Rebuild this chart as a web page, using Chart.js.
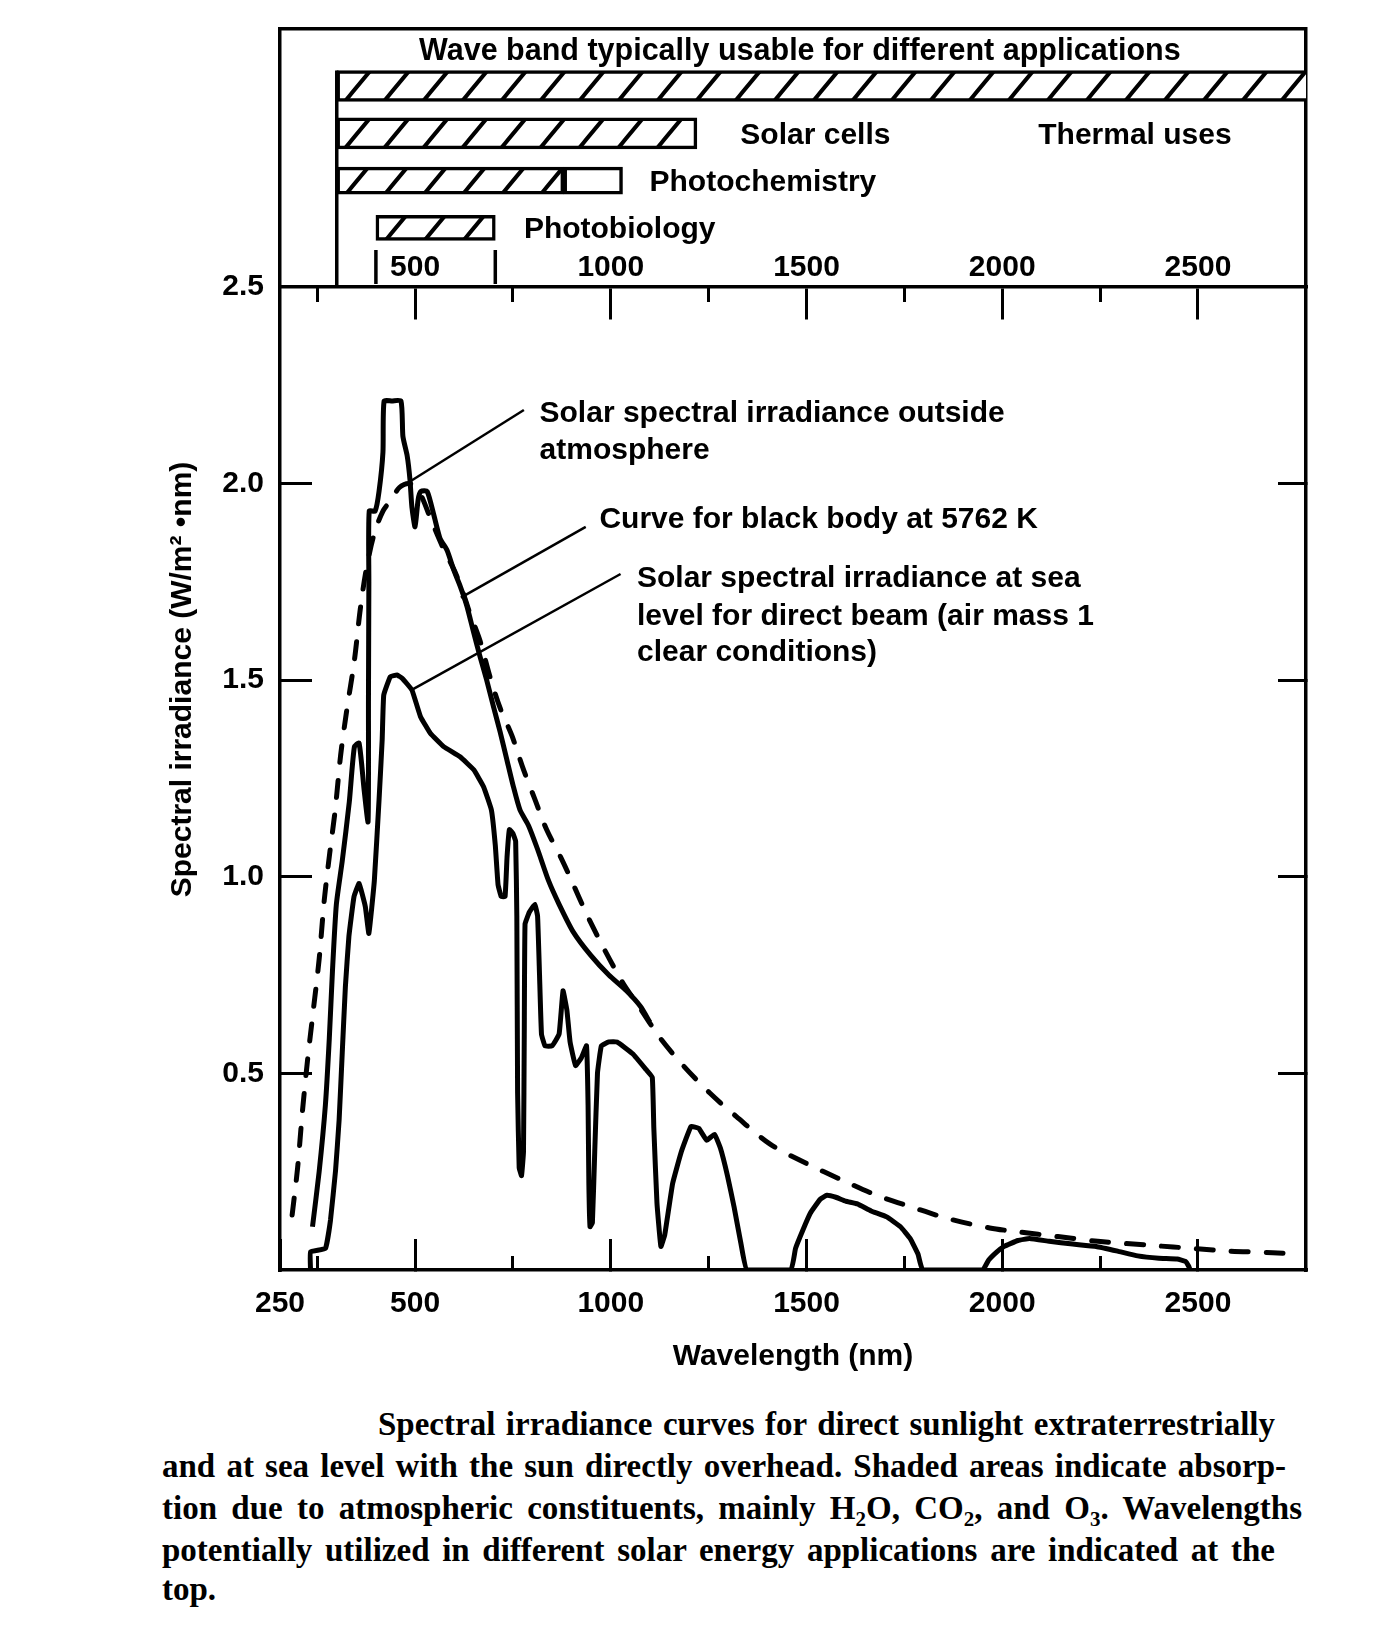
<!DOCTYPE html>
<html>
<head>
<meta charset="utf-8">
<script src="https://cdn.jsdelivr.net/npm/chart.js@4.4.1/dist/chart.umd.min.js"></script>
<style>
  body { margin: 0; background: #fff; }
  #wrap { position: relative; width: 1392px; height: 1636px; }
  #myChart { position: absolute; left: 0; top: 0; }
  .cap { position: absolute; font-family: "Liberation Serif", serif; font-weight: bold; font-size: 33px;
         line-height: 42px; color: #000; text-align: justify; text-align-last: justify; }
  .cap sub { font-size: 21px; line-height: 0; vertical-align: -7px; }
</style>
</head>
<body>
<div id="wrap">
  <canvas id="myChart" width="1392" height="1400"></canvas>
  <div class="cap" style="left:378px;top:1403px;width:897px">Spectral irradiance curves for direct sunlight extraterrestrially</div>
  <div class="cap" style="left:162px;top:1445px;width:1124px">and at sea level with the sun directly overhead. Shaded areas indicate absorp-</div>
  <div class="cap" style="left:162px;top:1487px;width:1140px">tion due to atmospheric constituents, mainly H<sub>2</sub>O, CO<sub>2</sub>, and O<sub>3</sub>. Wavelengths</div>
  <div class="cap" style="left:162px;top:1529px;width:1113px">potentially utilized in different solar energy applications are indicated at the</div>
  <div class="cap" style="left:162px;top:1568px;text-align:left;text-align-last:left">top.</div>
</div>
<script>
const ctx = document.querySelector("#myChart");

// curves: wavelength (nm) and irradiance (W/m2.nm)
const blackBodyNm = [186, 200, 212, 225, 240, 255, 268, 282, 296, 310, 325, 345, 360, 375, 395, 418, 440, 460, 485, 510,
  540, 570, 600, 620, 640, 666, 691, 717, 747, 778, 805, 836, 872, 900, 936, 981, 1031, 1072, 1126, 1185,
  1253, 1321, 1407, 1502, 1588, 1679, 1769, 1864, 1968, 2041, 2142, 2244, 2376, 2498, 2579, 2691, 2760];
const blackBodyVal = [0.14, 0.26, 0.40, 0.53, 0.66, 0.79, 0.94, 1.06, 1.17, 1.31, 1.42, 1.55, 1.68, 1.78, 1.87, 1.93, 1.96, 1.99, 2.00, 1.98,
  1.91, 1.84, 1.78, 1.73, 1.67, 1.60, 1.51, 1.43, 1.36, 1.27, 1.20, 1.12, 1.05, 0.99, 0.91, 0.82, 0.73, 0.67, 0.59, 0.52,
  0.45, 0.39, 0.32, 0.27, 0.23, 0.19, 0.16, 0.13, 0.107, 0.097, 0.085, 0.073, 0.063, 0.054, 0.048, 0.044, 0.04];

const outsideNm = [238, 255, 271, 281, 289, 299, 314, 332, 345, 357, 370, 380, 381, 382, 383, 398, 408, 418, 421, 441,
  464, 469, 480, 487, 492, 500, 508, 515, 531, 548, 564, 582, 599, 615, 632, 650, 666, 683, 701, 717,
  734, 751, 768, 790, 813, 841, 868, 904, 949, 995, 1040, 1076, 1100];
const outsideVal = [0.11, 0.25, 0.42, 0.59, 0.76, 0.93, 1.04, 1.19, 1.33, 1.34, 1.22, 1.14, 1.45, 1.75, 1.93, 1.93, 1.98, 2.08, 2.21, 2.21,
  2.21, 2.12, 2.07, 2.01, 1.94, 1.89, 1.96, 1.98, 1.98, 1.92, 1.86, 1.83, 1.78, 1.74, 1.69, 1.62, 1.56, 1.50, 1.43, 1.37,
  1.30, 1.23, 1.17, 1.13, 1.07, 0.99, 0.93, 0.86, 0.80, 0.75, 0.71, 0.67, 0.63];

const seaLevelNm = [233, 233, 271, 284, 297, 306, 314, 322, 331, 344, 357, 373, 382, 396, 408, 416, 420, 437, 454, 467,
  492, 514, 539, 573, 615, 650, 675, 695, 705, 712, 720, 730, 735, 741, 750, 757, 760, 762, 766, 772,
  777, 779, 781, 792, 806, 813, 818, 823, 832, 850, 868, 878, 888, 896, 910, 925, 938, 942, 944, 947,
  953, 959, 966, 976, 995, 1016, 1056, 1090, 1106, 1110, 1118, 1128, 1138, 1158, 1180, 1205, 1225, 1245, 1265, 1280,
  1298, 1315, 1332, 1348, 1460, 1472, 1490, 1510, 1535, 1552, 1575, 1600, 1630, 1665, 1705, 1740, 1765, 1785, 1797, 1950,
  1965, 1985, 2005, 2040, 2070, 2120, 2180, 2240, 2295, 2346, 2400, 2447, 2468, 2476, 2480];
const seaLevelVal = [0, 0.046, 0.055, 0.127, 0.254, 0.381, 0.552, 0.72, 0.848, 0.949, 0.983, 0.924, 0.856, 0.99, 1.195, 1.348, 1.462, 1.509, 1.513, 1.505,
  1.475, 1.407, 1.365, 1.331, 1.305, 1.272, 1.229, 1.17, 1.08, 0.98, 0.95, 0.95, 1.05, 1.12, 1.11, 1.09, 0.9, 0.45, 0.26, 0.24,
  0.3, 0.6, 0.88, 0.91, 0.93, 0.9, 0.75, 0.6, 0.57, 0.57, 0.6, 0.71, 0.66, 0.58, 0.52, 0.54, 0.57, 0.42, 0.22, 0.11,
  0.12, 0.3, 0.5, 0.57, 0.58, 0.58, 0.55, 0.51, 0.49, 0.36, 0.17, 0.06, 0.09, 0.22, 0.3, 0.365, 0.36, 0.33, 0.345, 0.31,
  0.24, 0.16, 0.07, 0, 0, 0.055, 0.1, 0.145, 0.18, 0.19, 0.185, 0.175, 0.168, 0.15, 0.135, 0.11, 0.08, 0.04, 0, 0,
  0.025, 0.045, 0.06, 0.075, 0.08, 0.073, 0.066, 0.06, 0.048, 0.036, 0.03, 0.028, 0.022, 0.01, 0];

// wave bands at the top (nm); hatched part ends at bandHatchEnd
const bandNames = ["Thermal uses", "Solar cells", "Photochemistry", "Photobiology"];
const bandStart = [300, 300, 300, 400];
const bandEnd = [3000, 1220, 1030, 705];
const bandHatchEnd = [3000, 1220, 880, 705];

// ticks
const yTicks = [0.5, 1.0, 1.5, 2.0, 2.5];
const xMajorTicks = [500, 1000, 1500, 2000, 2500];
const xMinorTicks = [250, 750, 1250, 1750, 2250];
const xBottomLabels = ["250", "500", "1000", "1500", "2000", "2500"]; // "250" is printed at the left corner

// layout
const X_MIN = 155, X_MAX = 2776, Y_TOP = 3.156;
const TOP = 29, BOTTOM = 1270;
const ROW = 47.3, ROW_MIN = -1.205;
const BAND_THICK = [31, 31, 27, 25];
const FONT = { family: "Liberation Sans", size: 30, weight: "bold" };
const AXIS_W = 3.5;

const notes = [
  ["Solar spectral irradiance outside", 818, 2.177],
  ["atmosphere", 818, 2.083],
  ["Curve for black body at 5762 K", 971, 1.907],
  ["Solar spectral irradiance at sea", 1067, 1.757],
  ["level for direct beam (air mass 1", 1067, 1.661],
  ["clear conditions)", 1067, 1.569]
];
const leaders = [[778, 2.187, 485, 2.004], [936, 1.89, 617, 1.71], [1025, 1.77, 495, 1.477]];
const bandLabels = [["Solar cells", 1331, 1], ["Thermal uses", 2092, 1], ["Photochemistry", 1099, 2], ["Photobiology", 778, 3]];

const pts = (xs, ys) => xs.map((v, i) => ({ x: v, y: ys[i] }));
const setTicks = (vals) => (s) => { s.ticks = vals.map(v => ({ value: v })); };
const noPad = (s) => { s.paddingTop = s.paddingBottom = s.paddingLeft = s.paddingRight = 0; };

// hatch for the band bars
function hatch() {
  const w = 39, h = 47;
  const c = document.createElement("canvas");
  c.width = w; c.height = h;
  const g = c.getContext("2d");
  g.fillStyle = "#fff"; g.fillRect(0, 0, w, h);
  g.strokeStyle = "#000"; g.lineWidth = 4;
  g.beginPath();
  g.moveTo(-w / 2, h / 2); g.lineTo(w / 2, -h / 2);
  g.moveTo(-w / 2, h * 1.5); g.lineTo(w * 1.5, -h / 2);
  g.moveTo(w / 2, h * 1.5); g.lineTo(w * 1.5, h / 2);
  g.stroke();
  return ctx.getContext("2d").createPattern(c, "repeat");
}
const pattern = hatch();

const curveStyle = { type: "line", xAxisID: "x", yAxisID: "y", borderColor: "#000", borderWidth: 5,
  pointRadius: 0, fill: false, borderJoinStyle: "round" };

const datasets = [
  Object.assign({}, curveStyle, { label: "Black body 5762 K", data: pts(blackBodyNm, blackBodyVal),
    borderDash: [17, 18], borderCapStyle: "round", tension: 0.3 }),
  Object.assign({}, curveStyle, { label: "Outside atmosphere", data: pts(outsideNm, outsideVal), tension: 0.2 }),
  Object.assign({}, curveStyle, { label: "Sea level, air mass 1", data: pts(seaLevelNm, seaLevelVal), tension: 0.1 })
];

bandNames.forEach((name, i) => {
  const bar = { type: "bar", indexAxis: "y", xAxisID: "x", yAxisID: "yBand", grouped: false,
    borderColor: "#000", borderWidth: 3.5, borderSkipped: false, barThickness: BAND_THICK[i] };
  datasets.push(Object.assign({}, bar, { label: name, data: [{ x: [bandStart[i], bandHatchEnd[i]], y: i }], backgroundColor: pattern }));
  if (bandEnd[i] > bandHatchEnd[i]) {
    datasets.push(Object.assign({}, bar, { label: name + " (plain)", data: [{ x: [bandHatchEnd[i], bandEnd[i]], y: i }], backgroundColor: "#fff" }));
  }
});

const notePlugin = {
  id: "notes",
  afterDatasetsDraw(chart) {
    const { x, y, yBand } = chart.scales;
    const g = chart.ctx;
    g.save();
    g.strokeStyle = "#000"; g.fillStyle = "#000";
    g.font = "bold 30px 'Liberation Sans'";
    g.textBaseline = "middle";

    g.lineWidth = 2.5;
    leaders.forEach(l => {
      g.beginPath();
      g.moveTo(x.getPixelForValue(l[0]), y.getPixelForValue(l[1]));
      g.lineTo(x.getPixelForValue(l[2]), y.getPixelForValue(l[3]));
      g.stroke();
    });
    notes.forEach(n => g.fillText(n[0], x.getPixelForValue(n[1]), y.getPixelForValue(n[2])));

    // band panel
    g.lineWidth = 3.5;
    const base = y.getPixelForValue(2.5);
    const x0 = x.getPixelForValue(bandStart[0]);
    g.beginPath();
    g.moveTo(x0, yBand.getPixelForValue(0) - BAND_THICK[0] / 2);
    g.lineTo(x0, base);
    [bandStart[3], bandEnd[3]].forEach(v => {
      const px = x.getPixelForValue(v);
      g.moveTo(px, base - 37); g.lineTo(px, base - 3);
    });
    g.stroke();
    bandLabels.forEach(b => g.fillText(b[0], x.getPixelForValue(b[1]), yBand.getPixelForValue(b[2]) + 2));
    g.textAlign = "center";
    g.font = "bold 30.5px 'Liberation Sans'";
    g.fillText("Wave band typically usable for different applications", x.getPixelForValue(1483), yBand.getPixelForValue(-0.72));
    g.restore();
  }
};

const xBase = { type: "linear", axis: "x", min: X_MIN, max: X_MAX };

new Chart(ctx, {
  type: "line",
  data: { datasets: datasets },
  plugins: [notePlugin],
  options: {
    responsive: false,
    animation: false,
    devicePixelRatio: 1,
    events: [],
    layout: { padding: { top: TOP, left: 0, right: 0, bottom: 0 } },
    plugins: { legend: { display: false }, tooltip: { enabled: false } },
    scales: {
      x: Object.assign({}, xBase, {
        position: "bottom",
        afterBuildTicks: setTicks([X_MIN].concat(xMajorTicks)),
        afterFit: s => { s.height = 1400 - BOTTOM; noPad(s); },
        ticks: { autoSkip: false, maxRotation: 0, padding: 47, color: "#000", font: FONT, callback: (v, i) => xBottomLabels[i] },
        grid: { drawOnChartArea: false, tickLength: -31, lineWidth: 3, color: "#000" },
        border: { width: AXIS_W, color: "#000" },
        title: { display: true, text: "Wavelength (nm)", color: "#000", font: FONT, padding: { top: 0, bottom: 25 } }
      }),
      xBotMinor: Object.assign({}, xBase, {
        position: { y: 0 },
        afterBuildTicks: setTicks(xMinorTicks),
        afterFit: noPad,
        ticks: { display: false },
        grid: { drawOnChartArea: false, tickLength: -14, lineWidth: 3, color: "#000" },
        border: { display: false }
      }),
      xTop: Object.assign({}, xBase, {
        position: { y: 2.5 },
        afterBuildTicks: setTicks(xMajorTicks),
        afterFit: noPad,
        ticks: { autoSkip: false, maxRotation: 0, padding: -68, color: "#000", font: FONT, callback: v => String(v) },
        grid: { drawOnChartArea: false, tickLength: 31, lineWidth: 3, color: "#000" },
        border: { width: AXIS_W, color: "#000" }
      }),
      xTopMinor: Object.assign({}, xBase, {
        position: { y: 2.5 },
        afterBuildTicks: setTicks(xMinorTicks),
        afterFit: noPad,
        ticks: { display: false },
        grid: { drawOnChartArea: false, tickLength: 15, lineWidth: 3, color: "#000" },
        border: { display: false }
      }),
      xFrame: Object.assign({}, xBase, {
        position: "top",
        afterFit: s => { s.height = 0; noPad(s); },
        ticks: { display: false },
        grid: { display: false },
        border: { width: AXIS_W, color: "#000" }
      }),
      y: {
        type: "linear", position: "left", min: 0, max: Y_TOP,
        afterBuildTicks: setTicks(yTicks),
        afterFit: s => { s.width = 280; noPad(s); },
        ticks: { padding: 48, color: "#000", font: FONT, callback: v => v.toFixed(1) },
        grid: { drawOnChartArea: false, tickLength: -32, lineWidth: 3, color: "#000" },
        border: { width: AXIS_W, color: "#000" },
        title: { display: true, text: "Spectral irradiance (W/m\u00B2 \u2022nm)" + "\u2002\u2002\u2002\u2002", color: "#000", font: FONT,
                 padding: { top: 165, bottom: 0 } }
      },
      yR: {
        type: "linear", position: "right", min: 0, max: Y_TOP,
        afterBuildTicks: setTicks(yTicks.slice(0, 4)),
        afterFit: s => { s.width = 1392 - 1306; noPad(s); },
        ticks: { display: false },
        grid: { drawOnChartArea: false, tickLength: -28, lineWidth: 3, color: "#000" },
        border: { width: AXIS_W, color: "#000" }
      },
      // rows of the band panel (bar defaults would add an offset to this axis)
      yBand: {
        type: "linear", axis: "y", position: "left", reverse: true, offset: false,
        min: ROW_MIN, max: ROW_MIN + (BOTTOM - TOP) / ROW,
        afterFit: s => { s.width = 0; noPad(s); },
        ticks: { display: false },
        grid: { display: false, offset: false },
        border: { display: false }
      }
    }
  }
});
</script>
</body>
</html>
